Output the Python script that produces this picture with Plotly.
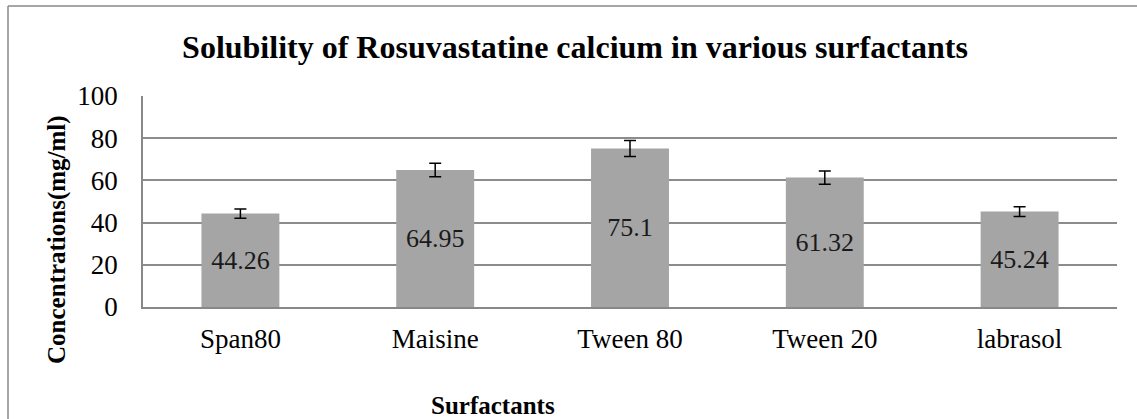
import plotly.graph_objects as go

categories = ["Span80", "Maisine", "Tween 80", "Tween 20", "labrasol"]
values = [44.26, 64.95, 75.1, 61.32, 45.24]
errors = [2.2, 3.2, 3.8, 3.1, 2.3]
labels = ["44.26", "64.95", "75.1", "61.32", "45.24"]

FONT = "Liberation Serif, Times New Roman, serif"
W, H = 1137, 419
L, R, T, B = 143, 20, 96, 112
pw = W - L - R
ph = H - T - B

def px(x):
    return (x - L) / pw

def py(y):
    return (H - B - y) / ph

fig = go.Figure()
fig.add_trace(go.Bar(
    x=categories, y=values,
    marker=dict(color="#A5A5A5", line=dict(width=0)),
    width=0.4,
    text=labels, textposition="inside", insidetextanchor="middle",
    textfont=dict(family=FONT, size=26, color="#1a1a1a"),
    textangle=0,
    error_y=dict(type="data", array=errors, visible=True,
                 color="black", thickness=1.5, width=6),
    hoverinfo="skip",
))

fig.update_layout(
    width=W, height=H,
    margin=dict(l=L, r=R, t=T, b=B),
    paper_bgcolor="white", plot_bgcolor="white",
    showlegend=False,
    font=dict(family=FONT, color="black"),
    uniformtext=dict(minsize=26, mode="show"),
    title=dict(text="<b>Solubility of Rosuvastatine calcium in various surfactants</b>",
               x=575 / W, xref="container", xanchor="center",
               y=1 - 47 / H, yref="container", yanchor="middle",
               font=dict(family=FONT, size=32, color="black")),
)
fig.update_xaxes(
    showline=True, linecolor="#888888", linewidth=1.5,
    showgrid=False, ticks="", tickfont=dict(family=FONT, size=27, color="black"),
    ticklabelstandoff=7,
)
fig.update_yaxes(
    range=[0, 100], dtick=20, tick0=0,
    showline=True, linecolor="#888888", linewidth=1.5,
    showgrid=True, gridcolor="#8c8c8c", gridwidth=1.5,
    zeroline=False, ticks="",
    tickfont=dict(family=FONT, size=27, color="black"),
    ticklabelstandoff=18,
)

fig.add_annotation(text="<b>Concentrations(mg/ml)</b>", xref="paper", yref="paper",
                   x=px(57), y=py(240), textangle=-90, showarrow=False,
                   xanchor="center", yanchor="middle",
                   font=dict(family=FONT, size=25, color="black"))
fig.add_annotation(text="<b>Surfactants</b>", xref="paper", yref="paper",
                   x=px(493), y=py(405), showarrow=False,
                   xanchor="center", yanchor="middle",
                   font=dict(family=FONT, size=25, color="black"))

border = dict(color="#888888", width=1.5)
fig.add_shape(type="line", xref="paper", yref="paper",
              x0=px(8), x1=px(W + 5), y0=py(6), y1=py(6), line=border, layer="above")
fig.add_shape(type="line", xref="paper", yref="paper",
              x0=px(8), x1=px(8), y0=py(6), y1=py(H + 5), line=border, layer="above")

fig.write_html("out.html", config={"displayModeBar": False},
               post_script="document.body.style.margin='0';document.body.style.overflow='hidden';")
